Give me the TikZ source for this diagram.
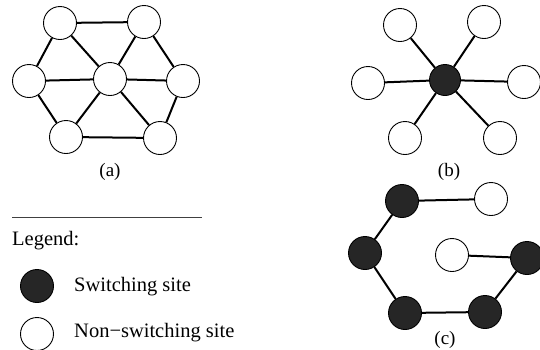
\documentclass[tikz,border=0pt]{standalone}
\usepackage{fontspec}
\setmainfont{Liberation Serif}
\definecolor{sw}{HTML}{262626}
\begin{document}
\begin{tikzpicture}[x=1pt,y=-1pt,
  site/.style={circle,draw=black,line width=0.9pt,fill=white,minimum size=33pt,inner sep=0pt},
  ssite/.style={site,fill=sw},
  edge/.style={line width=2pt},
  lab/.style={font=\fontsize{19}{22}\selectfont},
  leg/.style={font=\fontsize{20.5}{24}\selectfont,anchor=west,inner sep=0pt}]
\useasboundingbox (0,0) rectangle (540,349);
% (a)
\node[site] (a1) at (60,23) {};
\node[site] (a2) at (144,22) {};
\node[site] (a3) at (29,81) {};
\node[site] (a4) at (110,79) {};
\node[site] (a5) at (183,81) {};
\node[site] (a6) at (66,137) {};
\node[site] (a7) at (160,138) {};
\draw[edge] (a1)--(a2) (a1)--(a3) (a1)--(a4) (a2)--(a4) (a2)--(a5)
  (a3)--(a4) (a4)--(a5) (a3)--(a6) (a4)--(a6) (a4)--(a7) (a5)--(a7) (a6)--(a7);
\node[lab] (la) at (110,172) {(a)};
% (b)
\node[ssite,minimum size=31pt] (b0) at (445,80) {};
\node[site] (b1) at (400,25) {};
\node[site] (b2) at (484,22) {};
\node[site] (b3) at (368,83) {};
\node[site] (b4) at (524,82) {};
\node[site] (b5) at (405,138) {};
\node[site] (b6) at (500,138) {};
\draw[edge] (b0)--(b1) (b0)--(b2) (b0)--(b3) (b0)--(b4) (b0)--(b5) (b0)--(b6);
\node[lab] (lb) at (449,172) {(b)};
% (c)
\node[ssite] (c1) at (402,201) {};
\node[site] (c2) at (491,199) {};
\node[ssite] (c3) at (365,253) {};
\node[site] (c4) at (452,255) {};
\node[ssite] (c5) at (527,258) {};
\node[ssite] (c6) at (405,313) {};
\node[ssite] (c7) at (485,312) {};
\draw[edge] (c1)--(c2) (c1)--(c3) (c3)--(c6) (c6)--(c7) (c7)--(c5) (c5)--(c4);
\node[lab] (lc) at (445,340) {(c)};
% legend
\coordinate (l1) at (12,217);
\coordinate (l2) at (202,217);
\draw[line width=0.8pt,black!75] (l1)--(l2);
\node[leg] (lg) at (12,241) {Legend:};
\node[ssite] (k1) at (37,286) {};
\node[leg] (k1t) at (74,287) {Switching site};
\node[site] (k2) at (37,334) {};
\node[leg] (k2t) at (74,333) {Non\textminus switching site};
\end{tikzpicture}
\end{document}
